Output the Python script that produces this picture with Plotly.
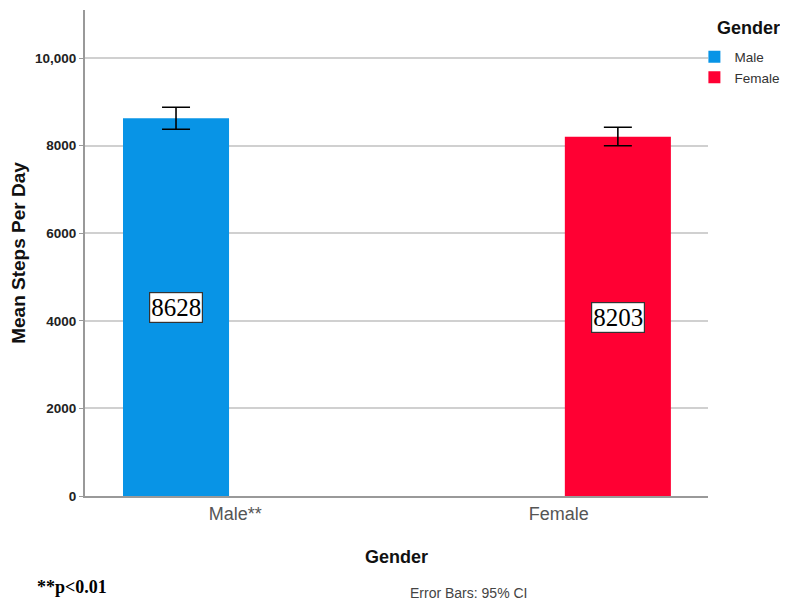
import plotly.graph_objects as go

categories = ["Male", "Female"]
tick_labels = ["Male**", "Female"]
mean_steps = [8628, 8203]
ci_upper = [250, 220]
ci_lower = [250, 205]
bar_labels = ["8628", "8203"]
label_y = [4300, 4080]
colors = ["#0894E6", "#FF0033"]
y_ticks = [0, 2000, 4000, 6000, 8000, 10000]
y_ticktext = ["0", "2000", "4000", "6000", "8000", "10,000"]

fig = go.Figure()
xpos = list(range(len(categories)))
for i, cat in enumerate(categories):
    fig.add_trace(go.Bar(
        x=[xpos[i]], y=[mean_steps[i]], name=cat,
        marker=dict(color=colors[i], line=dict(width=0)),
        width=0.24,
        error_y=dict(type="data", array=[ci_upper[i]], arrayminus=[ci_lower[i]],
                     symmetric=False, color="black", thickness=1.6, width=14),
    ))
    fig.add_annotation(x=xpos[i], y=label_y[i], text=bar_labels[i], showarrow=False,
                       font=dict(family="Liberation Serif", size=25, color="black"),
                       bgcolor="white", bordercolor="#333", borderwidth=1.2, borderpad=1)

# page body has an 8px margin, so the figure is 8px smaller on each axis
fig.update_layout(
    width=780, height=598,
    margin=dict(l=77, r=80, t=2, b=110, autoexpand=False),
    plot_bgcolor="white", paper_bgcolor="white",
    showlegend=True,
    legend=dict(xref="container", yref="container", x=0.880, xanchor="left",
                y=0.944, yanchor="top",
                font=dict(family="Liberation Sans", size=13.5, color="#333"),
                itemwidth=30, tracegroupgap=0, bgcolor="rgba(0,0,0,0)"),
    xaxis=dict(range=[-0.206, 1.204], tickvals=[0.134, 0.866], ticktext=tick_labels,
               showgrid=False, zeroline=False, showline=True, linecolor="#999", linewidth=2,
               ticks="", tickfont=dict(family="Liberation Sans", size=18, color="#555"),
               automargin=False,
               title=dict(text="<b>Gender</b>", font=dict(family="Liberation Sans", size=18, color="#111"),
                          standoff=28)),
    yaxis=dict(range=[0, 11100], tickvals=y_ticks, ticktext=y_ticktext,
               showgrid=True, gridcolor="#d0d0d0", gridwidth=1.5, zeroline=False,
               showline=True, linecolor="#999", linewidth=2,
               ticks="outside", ticklen=4, tickcolor="#999",
               tickfont=dict(family="Liberation Sans", size=13.5, color="#222", weight="bold"),
               automargin=False,
               title=dict(text="<b>Mean Steps Per Day</b>",
                          font=dict(family="Liberation Sans", size=19, color="#111"), standoff=6)),
)

fig.add_annotation(xref="paper", yref="paper", x=1.065, y=0.963,
                   xanchor="center", yanchor="middle", text="<b>Gender</b>", showarrow=False,
                   font=dict(family="Liberation Sans", size=18, color="#111"))
fig.add_annotation(xref="paper", yref="paper", x=-0.0803, y=-0.187, xanchor="left", yanchor="middle",
                   text="**p<0.01", showarrow=False,
                   font=dict(family="Liberation Serif", size=18, color="black", weight="bold"))
fig.add_annotation(xref="paper", yref="paper", x=0.616, y=-0.2, xanchor="center", yanchor="middle",
                   text="Error Bars: 95% CI", showarrow=False,
                   font=dict(family="Liberation Sans", size=14, color="#444"))

fig.write_html("out.html")
